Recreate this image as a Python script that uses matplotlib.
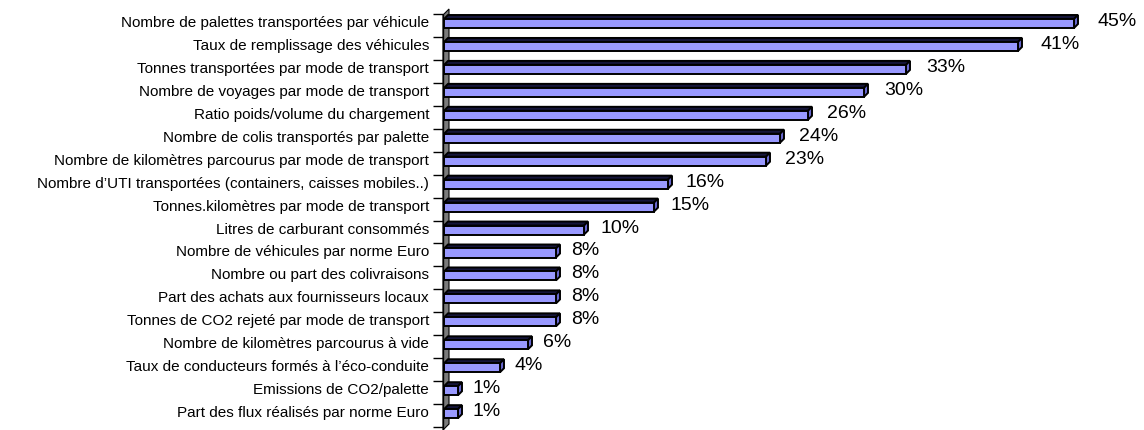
import matplotlib
matplotlib.use("Agg")
import matplotlib.pyplot as plt
from matplotlib.patches import Polygon
import numpy as np

plt.rcParams["font.family"] = ["Liberation Sans", "DejaVu Sans"]

categories = [
    "Nombre de palettes transportées par véhicule",
    "Taux de remplissage des véhicules",
    "Tonnes transportées par mode de transport",
    "Nombre de voyages par mode de transport",
    "Ratio poids/volume du chargement",
    "Nombre de colis transportés par palette",
    "Nombre de kilomètres parcourus par mode de transport",
    "Nombre d’UTI transportées (containers, caisses mobiles..)",
    "Tonnes.kilomètres par mode de transport",
    "Litres de carburant consommés",
    "Nombre de véhicules par norme Euro",
    "Nombre ou part des colivraisons",
    "Part des achats aux fournisseurs locaux",
    "Tonnes de CO2 rejeté par mode de transport",
    "Nombre de kilomètres parcourus à vide",
    "Taux de conducteurs formés à l’éco-conduite",
    "Emissions de CO2/palette",
    "Part des flux réalisés par norme Euro",
]
values = [45, 41, 33, 30, 26, 24, 23, 16, 15, 10, 8, 8, 8, 8, 6, 4, 1, 1]
value_labels = [f"{v}%" for v in values]

W, H = 1144, 430
PX_PER_PCT = 14.0
BAND = 22.95          # pixels per category
TOP_PAD = 21.5        # pixels from top to first category centre

fig = plt.figure(figsize=(W / 100, H / 100), dpi=100)
ax = fig.add_axes([444 / W, 0, 700 / W, 1])
ax.set_xlim(0, 700 / PX_PER_PCT)
ax.set_ylim((H - TOP_PAD) / BAND, -TOP_PAD / BAND)

n = len(categories)
y = np.arange(n)

# 3D depth of the bars, in data units
dx = 4 / PX_PER_PCT
dy = 4 / BAND

bar_face = "#9999FF"
side_face = "#6666CC"
top_face = "#15153A"

# back wall on the category axis
wx0, wx1 = -1 / PX_PER_PCT, 5 / PX_PER_PCT
wy_top = (15 - TOP_PAD) / BAND
wy_bot = (H - TOP_PAD) / BAND
wall = Polygon([(wx0, wy_top), (wx1, wy_top - 1.5 * dy), (wx1, wy_bot - 1.5 * dy), (wx0, wy_bot)],
               closed=True, facecolor="#7a7a7a", edgecolor="black", linewidth=0.8,
               zorder=1.5, clip_on=False)
ax.add_patch(wall)

bars = ax.barh(y + 2 / BAND, values, height=9 / BAND, color=bar_face,
               edgecolor="black", linewidth=1.4, zorder=3)

for rect in bars:
    x0 = rect.get_x()
    x1 = x0 + rect.get_width()
    yt = rect.get_y()
    yb = yt + rect.get_height()
    top = Polygon([(x0, yt), (x1, yt), (x1 + dx, yt - dy), (x0 + dx, yt - dy)],
                  closed=True, facecolor=top_face, edgecolor="black",
                  linewidth=1.4, zorder=2)
    side = Polygon([(x1, yt), (x1, yb), (x1 + dx, yb - dy), (x1 + dx, yt - dy)],
                   closed=True, facecolor=side_face, edgecolor="black",
                   linewidth=1.4, zorder=2)
    ax.add_patch(top)
    ax.add_patch(side)

for yi, v, lab in zip(y, values, value_labels):
    ax.annotate(lab, xy=(v + dx, yi), xytext=(10 + 0.2 * v, 0),
                textcoords="offset pixels", ha="left", va="center",
                fontsize=14, color="black")

# category labels and tick marks
for s in ["top", "right", "bottom"]:
    ax.spines[s].set_visible(False)
ax.spines["left"].set_position(("data", wx0))
ax.spines["left"].set_bounds(wy_top, wy_bot)
ax.spines["left"].set_linewidth(1.0)

ax.set_yticks(y)
ax.set_yticklabels(categories, fontsize=11)
ax.tick_params(axis="y", which="major", length=0, pad=10)
ax.set_yticks(np.arange(n + 1) - 7.5 / BAND, minor=True)
ax.tick_params(axis="y", which="minor", length=7.5, width=1.0)
ax.set_xticks([])

fig.savefig("out.png", dpi=100)
